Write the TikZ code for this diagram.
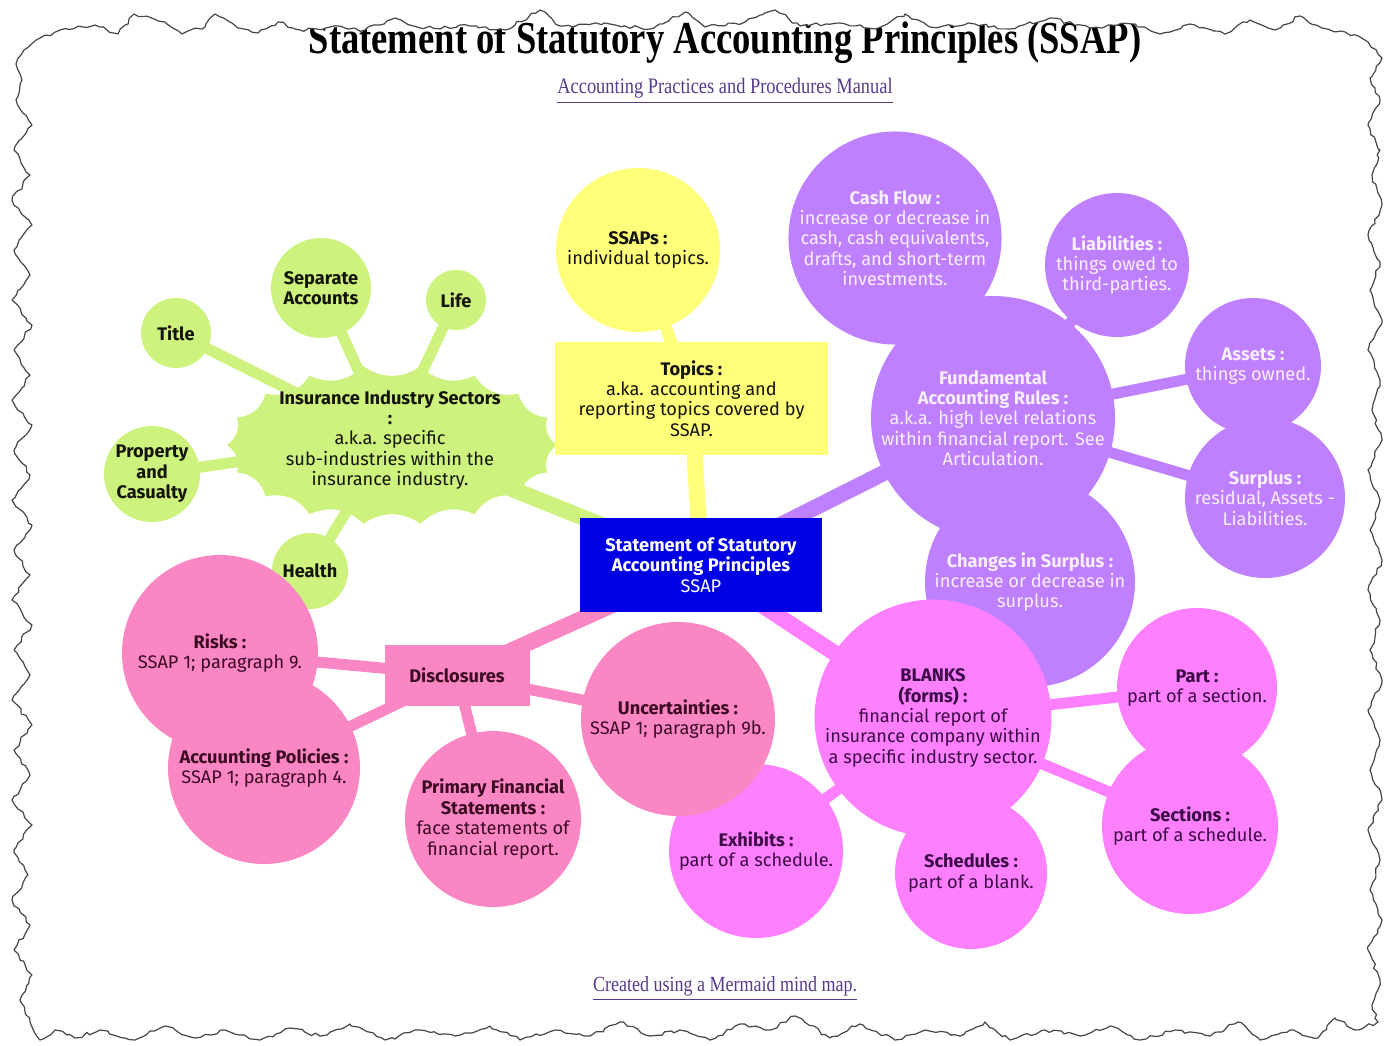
\documentclass[tikz,border=0pt]{standalone}
\usepackage{fontspec}
\setmainfont{Fira Sans}
\newfontfamily\serifttl{Liberation Serif}
\usetikzlibrary{decorations.pathmorphing}
\definecolor{mgreen}{RGB}{205,242,125}
\definecolor{myellow}{RGB}{255,255,122}
\definecolor{mblue}{RGB}{0,0,228}
\definecolor{mpurple}{RGB}{191,128,255}
\definecolor{mpink}{RGB}{251,134,196}
\definecolor{mmagenta}{RGB}{255,128,255}
\definecolor{txtdark}{RGB}{20,20,10}
\definecolor{txtpink}{RGB}{60,10,35}
\definecolor{txtmag}{RGB}{60,10,70}
\definecolor{txtpur}{RGB}{248,238,255}
\definecolor{linkcol}{RGB}{88,58,140}
\definecolor{framecol}{RGB}{70,70,70}
\newcommand\mmfont{\fontsize{9.1}{10.2}\selectfont}
\pgfdeclarelayer{paper}
\pgfdeclarelayer{edges}
\pgfsetlayers{paper,edges,main}
\begin{document}
\begin{tikzpicture}[x=0.5pt,y=-0.5pt,
  every node/.style={inner sep=0pt, align=center, font=\mmfont},
  bubble/.style={circle, minimum size=#1pt},
  gnode/.style={bubble=#1, fill=mgreen, text=txtdark},
  ynode/.style={bubble=#1, fill=myellow, text=txtdark},
  pnode/.style={bubble=#1, fill=mpurple, text=txtpur},
  knode/.style={bubble=#1, fill=mpink, text=txtpink},
  mnode/.style={bubble=#1, fill=mmagenta, text=txtmag},
  rootedge/.style={line width=8pt},
  subedge/.style={line width=5.5pt},
  framepath/.style={insert path={(16,64) -- (24,50) -- (40,38) -- (60,30) -- (95,25) -- (118,34) -- (134,14) -- (165,22) -- (182,34) -- (205,27) -- (215,14) -- (238,28) -- (258,33) -- (278,22) -- (300,30) -- (330,27) -- (365,30) -- (395,18) -- (420,28) -- (470,26) -- (505,30) -- (540,10) -- (560,26) -- (610,24) -- (650,29) -- (685,12) -- (705,27) -- (745,22) -- (775,10) -- (800,26) -- (840,23) -- (875,29) -- (905,14) -- (930,27) -- (975,24) -- (1010,29) -- (1050,18) -- (1090,28) -- (1135,24) -- (1160,34) -- (1190,24) -- (1225,34) -- (1250,20) -- (1275,30) -- (1300,16) -- (1322,28) -- (1345,32) -- (1368,42)
  -- (1382,58) -- (1370,78) -- (1380,100) -- (1368,125) -- (1380,150) -- (1372,175) -- (1382,205) -- (1368,235) -- (1380,262) -- (1370,290) -- (1382,320) -- (1368,350) -- (1380,380) -- (1372,410) -- (1382,440) -- (1368,470) -- (1380,500) -- (1370,530) -- (1382,560) -- (1368,590) -- (1380,620) -- (1370,650) -- (1382,680) -- (1368,710) -- (1380,740) -- (1370,770) -- (1382,800) -- (1368,830) -- (1380,860) -- (1370,890) -- (1382,920) -- (1368,950) -- (1380,980) -- (1372,1005) -- (1378,1022)
  -- (1355,1030) -- (1335,1018) -- (1318,1038) -- (1290,1030) -- (1260,1040) -- (1238,1022) -- (1210,1036) -- (1175,1030) -- (1140,1040) -- (1110,1026) -- (1080,1036) -- (1045,1030) -- (1010,1040) -- (985,1022) -- (960,1036) -- (925,1030) -- (895,1040) -- (860,1024) -- (830,1038) -- (795,1016) -- (770,1030) -- (740,1024) -- (710,1040) -- (680,1030) -- (650,1036) -- (620,1022) -- (590,1036) -- (555,1030) -- (520,1040) -- (490,1026) -- (455,1036) -- (420,1030) -- (385,1040) -- (350,1024) -- (320,1036) -- (290,1028) -- (260,1040) -- (225,1030) -- (195,1038) -- (165,1026) -- (135,1040) -- (100,1030) -- (75,1038) -- (55,1030) -- (40,1040)
  -- (30,1022) -- (20,1000) -- (32,975) -- (14,950) -- (30,925) -- (12,900) -- (28,875) -- (14,850) -- (32,825) -- (12,800) -- (30,775) -- (14,750) -- (32,725) -- (12,700) -- (30,675) -- (14,650) -- (32,625) -- (12,600) -- (30,575) -- (14,550) -- (32,525) -- (12,500) -- (30,475) -- (14,450) -- (32,425) -- (12,400) -- (30,375) -- (14,350) -- (32,325) -- (12,300) -- (30,275) -- (14,250) -- (32,225) -- (12,200) -- (30,175) -- (14,150) -- (32,125) -- (16,100) -- (22,80) -- cycle}},
  torn/.style={decorate, decoration={random steps, segment length=2.5pt, amplitude=0.9pt}}
]
\begin{pgfonlayer}{paper}
\fill[white] (0,0) rectangle (1384,1045);
\end{pgfonlayer}
\useasboundingbox (0,0) rectangle (1384,1045);

\begin{scope}
\pgfmathsetseed{4242}
\path[clip, torn, framepath];

% title and links
\node (ttl) at (725,42) {\serifttl\bfseries\fontsize{18.3}{20}\selectfont\scalebox{1}[1.25]{Statement of Statutory Accounting Principles (SSAP)}};
\node[text=linkcol] (manual) at (725,91) {\serifttl\fontsize{9.2}{10}\selectfont\scalebox{1}[1.2]{\underline{Accounting Practices and Procedures Manual}}};
\node[text=linkcol] (created) at (725,989) {\serifttl\fontsize{9}{10}\selectfont\scalebox{1}[1.2]{\underline{Created using a Mermaid mind map.}}};

% insurance bang shape
\fill[mgreen] (557,445) \foreach \i in {1,...,18} { to[bend right=35] ({392+165*cos(\i*20)},{445+80*sin(\i*20)}) } -- cycle;
\node[text=txtdark] (ins) at (390,440) {\textbf{Insurance Industry Sectors}\\\textbf{:}\\a.k.a. specific\\sub-industries within the\\insurance industry.};
\node[gnode=35] (title) at (176,333) {\textbf{Title}};
\node[gnode=50] (sep) at (321,288) {\textbf{Separate}\\\textbf{Accounts}};
\node[gnode=30] (life) at (456,300) {\textbf{Life}};
\node[gnode=48] (prop) at (152,474) {\textbf{Property}\\\textbf{and}\\\textbf{Casualty}};
\node[gnode=38] (health) at (310,571) {\textbf{Health}};

% topics
\node[rectangle, fill=myellow, text=txtdark, minimum width=136.5pt, minimum height=56.5pt] (topics) at (691.5,398.5) {\textbf{Topics :}\\a.ka. accounting and\\reporting topics covered by\\SSAP.};
\node[ynode=82] (ssaps) at (638,250) {\textbf{SSAPs :}\\individual topics.};

% fundamental
\node[pnode=105] (cash) at (895,238) {\textbf{Cash Flow :}\\increase or decrease in\\cash, cash equivalents,\\drafts, and short-term\\investments.};
\node[pnode=72] (liab) at (1117,265) {\textbf{Liabilities :}\\things owed to\\third-parties.};
\node[pnode=122] (fund) at (993,418) {\textbf{Fundamental}\\\textbf{Accounting Rules :}\\a.k.a. high level relations\\within financial report. See\\Articulation.};
\node[pnode=68] (assets) at (1253,366) {\textbf{Assets :}\\things owned.};
\node[pnode=80] (surplus) at (1265,498) {\textbf{Surplus :}\\residual, Assets -\\Liabilities.};
\node[pnode=105] (changes) at (1030,582) {\textbf{Changes in Surplus :}\\increase or decrease in\\surplus.};

% blanks
\node[mnode=118] (blanks) at (933,718) {\textbf{BLANKS}\\\textbf{(forms) :}\\financial report of\\insurance company within\\a specific industry sector.};
\node[mnode=80] (part) at (1197,688) {\textbf{Part :}\\part of a section.};
\node[mnode=88] (sections) at (1190,826) {\textbf{Sections :}\\part of a schedule.};
\node[mnode=76] (schedules) at (971,873) {\textbf{Schedules :}\\part of a blank.};
\node[mnode=87] (exhibits) at (756,851) {\textbf{Exhibits :}\\part of a schedule.};

% disclosures
\node[rectangle, fill=mpink, text=txtpink, minimum width=72.5pt, minimum height=30.5pt] (disc) at (457,675) {\textbf{Disclosures}};
\node[knode=98] (risks) at (220,653) {\textbf{Risks :}\\SSAP 1; paragraph 9.};
\node[knode=96] (accpol) at (264,768) {\textbf{Accuunting Policies :}\\SSAP 1; paragraph 4.};
\node[knode=88] (primary) at (493,819) {\textbf{Primary Financial}\\\textbf{Statements :}\\face statements of\\financial report.};
\node[knode=97] (uncert) at (678,719) {\textbf{Uncertainties :}\\SSAP 1; paragraph 9b.};

% root
\node[rectangle, fill=mblue, text=white, minimum width=121pt, minimum height=47pt] (root) at (701,565) {\textbf{Statement of Statutory}\\\textbf{Accounting Principles}\\SSAP};
\end{scope}

\begin{pgfonlayer}{edges}
\draw[rootedge, myellow] (root.center) -- (topics.center);
\draw[line width=6pt, myellow] (topics.center) -- (ssaps.center);
\draw[rootedge, mgreen] (root.center) -- (ins.center);
\foreach \n in {title,sep,life,prop,health} \draw[subedge, mgreen] (ins.center) -- (\n.center);
\draw[rootedge, mpurple] (root.center) -- (fund.center);
\foreach \n in {cash,liab,assets,surplus,changes} \draw[subedge, mpurple] (fund.center) -- (\n.center);
\draw[rootedge, mpink] (root.center) -- (disc.center);
\foreach \n in {risks,accpol,primary,uncert} \draw[subedge, mpink] (disc.center) -- (\n.center);
\draw[rootedge, mmagenta] (root.center) -- (blanks.center);
\foreach \n in {part,sections,schedules,exhibits} \draw[subedge, mmagenta] (blanks.center) -- (\n.center);
\end{pgfonlayer}

\pgfmathsetseed{4242}
\draw[framecol, line width=0.6pt, line join=round, torn, framepath];
\end{tikzpicture}
\end{document}
